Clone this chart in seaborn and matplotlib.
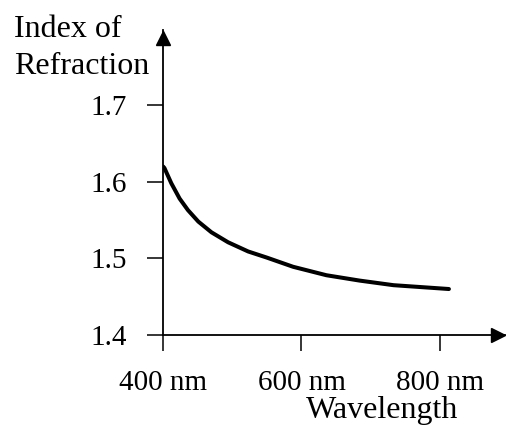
import matplotlib
matplotlib.use("Agg")
from matplotlib import pyplot as plt
import pandas as pd
import seaborn as sns

# Dispersion curve
wavelength = [400, 402, 412, 424, 436, 451, 470, 494, 523, 550,
              588, 636, 684, 733, 781, 813]
index = [1.620, 1.618, 1.598, 1.578, 1.563, 1.548, 1.534, 1.521, 1.509, 1.501,
         1.489, 1.478, 1.471, 1.465, 1.462, 1.460]
x_ticks = [400, 600, 800]
x_labels = ['400 nm', '600 nm', '800 nm']
y_ticks = [1.4, 1.5, 1.6, 1.7]
y_labels = ['1.4', '1.5', '1.6', '1.7']

curve = pd.DataFrame({'wavelength': wavelength, 'n': index})

sns.set_style('white')
plt.rcParams['font.family'] = ['Liberation Serif', 'DejaVu Serif']
plt.rcParams['text.color'] = 'black'

fig = plt.figure(figsize=(5.08, 4.26), dpi=100)
ax = fig.add_axes([163 / 508, 1 - 335 / 426, (505 - 163) / 508, (335 - 30) / 426])

sns.lineplot(data=curve, x='wavelength', y='n', color='black',
             linewidth=2.9, ax=ax)
ax.lines[0].set_solid_joinstyle('round')

ax.set_xlim(400, 894)
ax.set_ylim(1.4, 1.798)
ax.set_xticks(x_ticks)
ax.set_xticklabels(x_labels)
ax.set_yticks(y_ticks)
ax.set_yticklabels(y_labels)
ax.set_xlabel('')
ax.set_ylabel('')

for side in ['top', 'right']:
    ax.spines[side].set_visible(False)
for side in ['left', 'bottom']:
    ax.spines[side].set_linewidth(1.3)
    ax.spines[side].set_color('black')

ax.tick_params(axis='both', direction='out', length=11.5, width=1.1,
               color='black', labelsize=21, labelcolor='black',
               bottom=True, left=True)
ax.tick_params(axis='x', pad=14)
ax.tick_params(axis='y', pad=14.5)

# arrow heads at the ends of the axes
ax.plot(0, 0.975, marker='^', color='black', markersize=10,
        transform=ax.transAxes, clip_on=False)
ax.plot(0.98, 0, marker='>', color='black', markersize=10,
        transform=ax.transAxes, clip_on=False)

fig.text(14 / 508, 1 - 37 / 426, 'Index of', fontsize=23,
         ha='left', va='baseline')
fig.text(14 / 508, 1 - 74 / 426, 'Refraction', fontsize=23,
         ha='left', va='baseline')
fig.text(382 / 508, 8 / 426, 'Wavelength', fontsize=23,
         ha='center', va='baseline')

plt.savefig('out.png', dpi=100)
